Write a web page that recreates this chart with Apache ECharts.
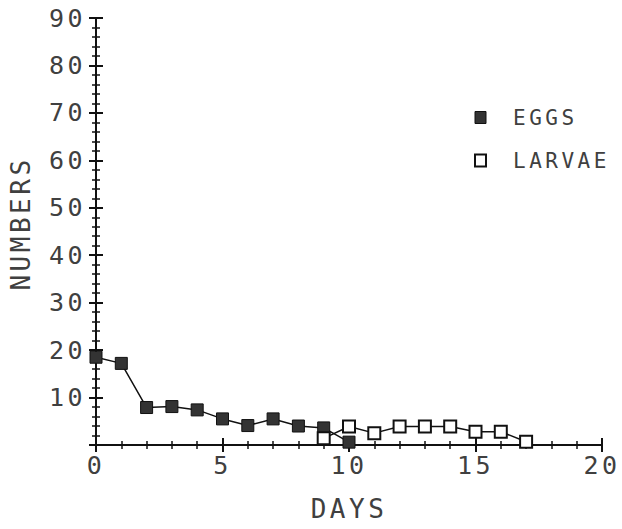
<!DOCTYPE html>
<html><head><meta charset="utf-8">
<script src="https://cdn.jsdelivr.net/npm/echarts@6/dist/echarts.min.js"></script>
<style>html,body{margin:0;padding:0;background:#fff}#c{width:622px;height:529px}
#c svg text{letter-spacing:3.5px}</style>
</head><body><div id="c"></div>
<script>
const eggDays = [0, 1, 2, 3, 4, 5, 6, 7, 8, 9, 10];
const eggValues = [18.5, 17.2, 7.9, 8.1, 7.4, 5.5, 4.1, 5.5, 4.0, 3.6, 0.6];
const larvaeDays = [9, 10, 11, 12, 13, 14, 15, 16, 17];
const larvaeValues = [1.4, 3.9, 2.5, 3.9, 3.9, 3.9, 2.8, 2.8, 0.7];
const xTicks = [0, 5, 10, 15, 20];
const yTicks = [10, 20, 30, 40, 50, 60, 70, 80, 90];

const font = 'DejaVu Sans Mono';
const textColor = '#404040';
const chart = echarts.init(document.getElementById('c'), null, {renderer: 'svg'});
const gridLeft = 96, gridRight = 20, gridTop = 18, gridBottom = 84;
const gridW = 622 - gridLeft - gridRight, gridH = 529 - gridTop - gridBottom;
const mkTick = () => ({show: true, inside: false, length: 7, lineStyle: {color: '#111', width: 2}});
const mkMinor = () => ({show: true, splitNumber: 5, length: 4, lineStyle: {color: '#111', width: 1.5}});
const mkLine = () => ({show: true, onZero: false, lineStyle: {color: '#111', width: 2}});
chart.setOption({
  animation: false,
  backgroundColor: '#fff',
  grid: {left: gridLeft, right: gridRight, top: gridTop, bottom: gridBottom},
  legend: {
    orient: 'vertical', left: 469, top: 102, itemGap: 22,
    itemWidth: 11, itemHeight: 12,
    textStyle: {fontFamily: font, fontSize: 21, color: textColor, padding: [0, 0, 0, 22]},
    data: [
      {name: 'EGGS', icon: 'rect', itemStyle: {color: '#333', borderColor: '#111', borderWidth: 1}},
      {name: 'LARVAE', icon: 'rect', itemStyle: {color: '#fff', borderColor: '#111', borderWidth: 2}}
    ]
  },
  xAxis: [
    {
      type: 'value', min: 0, max: 20, interval: 5, position: 'bottom',
      name: 'DAYS', nameLocation: 'middle', nameGap: 51,
      nameTextStyle: {fontFamily: font, fontSize: 26, color: textColor},
      axisLine: mkLine(), splitLine: {show: false},
      axisTick: mkTick(), minorTick: mkMinor(),
      axisLabel: {fontFamily: font, fontSize: 25, color: textColor, margin: 8,
        formatter: v => (xTicks.indexOf(v) >= 0 ? String(v) : '')}
    },
    {
      type: 'value', min: 0, max: 20, interval: 5, position: 'top', offset: -gridH,
      axisLine: mkLine(), splitLine: {show: false},
      axisTick: mkTick(), minorTick: mkMinor(),
      axisLabel: {show: false}
    }
  ],
  yAxis: [
    {
      type: 'value', min: 0, max: 90, interval: 10, position: 'left',
      name: 'NUMBERS', nameLocation: 'middle', nameGap: 62, nameRotate: 90,
      nameTextStyle: {fontFamily: font, fontSize: 26, color: textColor, padding: [0, 0, 0, 16]},
      axisLine: mkLine(), splitLine: {show: false},
      axisTick: mkTick(), minorTick: mkMinor(),
      axisLabel: {fontFamily: font, fontSize: 25, color: textColor, margin: 10,
        formatter: v => (yTicks.indexOf(v) >= 0 ? String(v) : '')}
    },
    {
      type: 'value', min: 0, max: 90, interval: 10, position: 'right', offset: -gridW,
      axisLine: mkLine(), splitLine: {show: false},
      axisTick: mkTick(), minorTick: mkMinor(),
      axisLabel: {show: false}
    }
  ],
  series: [
    {
      name: 'EGGS', type: 'line', xAxisIndex: 0, yAxisIndex: 0,
      data: eggDays.map((d, i) => [d, eggValues[i]]),
      symbol: 'rect', symbolSize: 12,
      lineStyle: {color: '#111', width: 1.5},
      itemStyle: {color: '#333', borderColor: '#111', borderWidth: 1},
      z: 3
    },
    {
      name: 'LARVAE', type: 'line', xAxisIndex: 0, yAxisIndex: 0,
      data: larvaeDays.map((d, i) => [d, larvaeValues[i]]),
      symbol: 'rect', symbolSize: 12,
      lineStyle: {color: '#111', width: 1.5},
      itemStyle: {color: '#fff', borderColor: '#111', borderWidth: 2},
      z: 4
    }
  ]
});
</script></body></html>
